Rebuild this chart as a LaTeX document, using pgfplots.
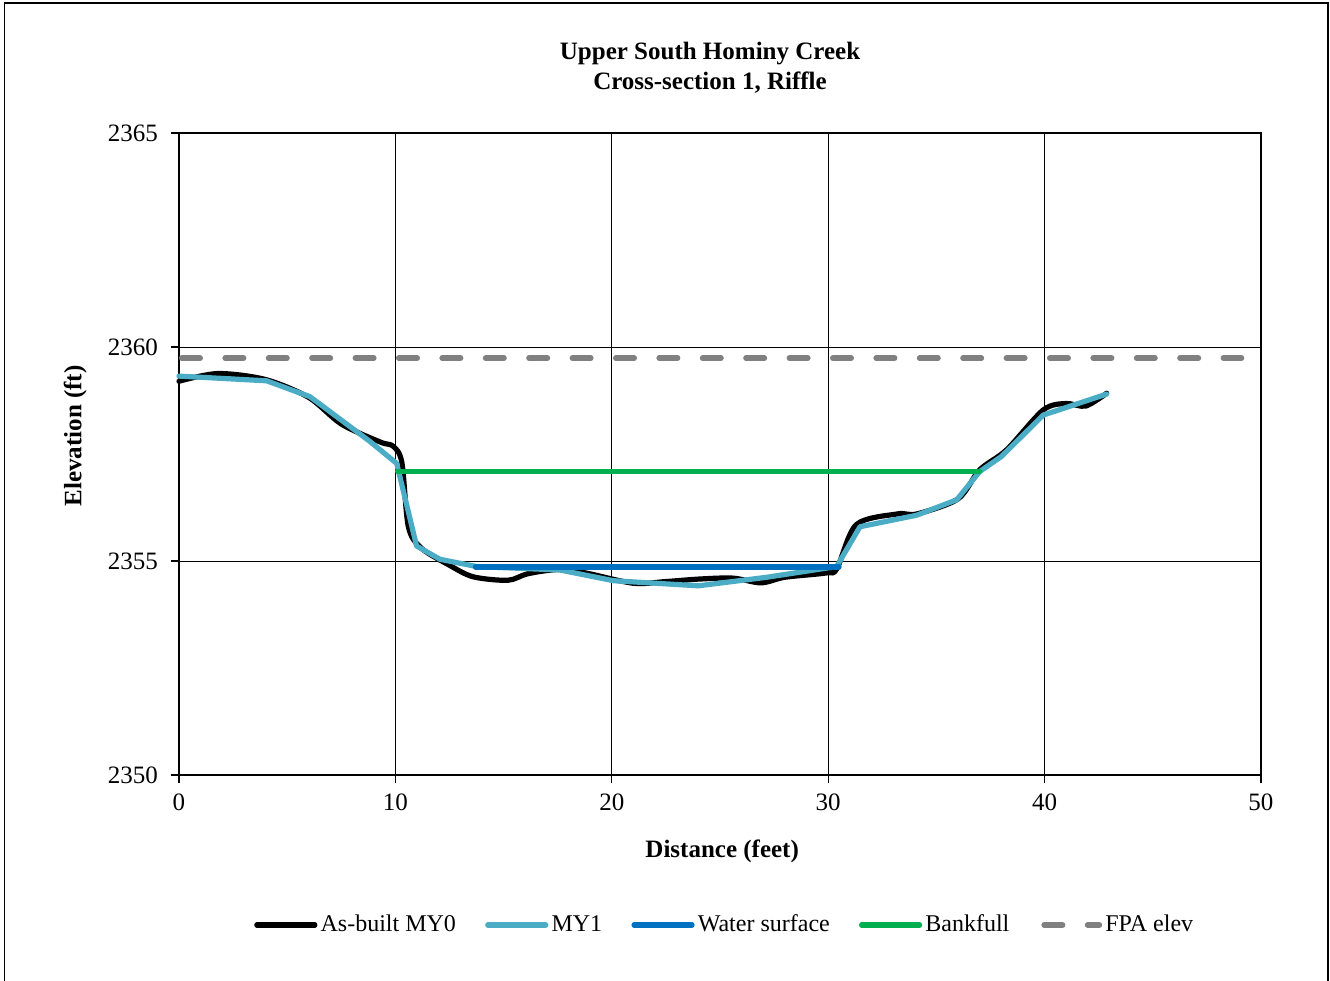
\documentclass[border=0pt]{standalone}
\usepackage{pgfplots}
\pgfplotsset{compat=1.18}
\usepackage{fontspec}
\setmainfont{Liberation Serif}
\definecolor{myone}{HTML}{4BACC6}
\definecolor{wsurf}{HTML}{0070C0}
\definecolor{bkf}{HTML}{00B050}
\definecolor{fpa}{HTML}{808080}
\begin{document}
\begin{tikzpicture}
\useasboundingbox (-89.5pt,-103pt) rectangle (575.5pt,387.5pt);
\draw[black, line width=0.8pt] (-87.25pt,-104pt) -- (-87.25pt,386pt) -- (574.5pt,386pt) -- (574.5pt,-104pt);
\begin{axis}[
  at={(0pt,0pt)}, anchor=south west,
  scale only axis, width=541pt, height=321pt,
  xmin=0, xmax=50, ymin=2350, ymax=2365,
  xtick={0,10,20,30,40,50}, ytick={2350,2355,2360,2365},
  grid=major, major grid style={black, line width=0.5pt},
  axis line style={black, line width=0.8pt},
  tick style={black, line width=0.6pt},
  tick align=outside, major tick length=4pt,
  xtick pos=bottom, ytick pos=left,
  /pgf/number format/assume math mode=true,
  /pgf/number format/set thousands separator={},
  ticklabel style={font=\fontsize{12.5}{15}\selectfont},
  xticklabel style={yshift=-2pt},
  yticklabel style={xshift=-3pt},
  xlabel={Distance (feet)},
  ylabel={Elevation (ft)},
  xlabel style={font=\fontsize{12.5}{15}\selectfont\bfseries, at={(axis description cs:0.502,-0.1184)}, anchor=center},
  ylabel style={font=\fontsize{12.5}{15}\selectfont\bfseries, at={(axis description cs:-0.096,0.528)}, anchor=center},
  legend columns=5,
  legend style={draw=none, fill=none, font=\fontsize{12}{14}\selectfont, at={(axis description cs:0.504,-0.2336)}, anchor=center,
    nodes={inner sep=0.6pt},
    /tikz/every odd column/.append style={column sep=1pt},
    /tikz/every even column/.append style={column sep=14pt}},
  legend cell align=left,
  legend image code/.code={\draw[#1] (0pt,0pt) -- (29pt,0pt);},
  clip=false,
]
\addplot[black, line width=2.6pt, smooth, tension=0.5, line cap=round, line join=round] coordinates {
(0,2359.2) (1.8,2359.38) (4,2359.24) (6,2358.82) (7.5,2358.2) (9.3,2357.78) (9.9,2357.68)
(10.3,2357.3) (10.6,2355.8) (11.2,2355.3) (12.5,2354.9) (13.6,2354.63) (15.2,2354.55)
(16.1,2354.7) (17.5,2354.8) (18.8,2354.72) (21.0,2354.48) (22.5,2354.52) (24.1,2354.58)
(25.6,2354.6) (26.9,2354.49) (28.0,2354.62) (29.9,2354.72) (30.4,2354.82) (31.3,2355.85)
(33.2,2356.1) (34.1,2356.1) (36,2356.45) (37.0,2357.13) (38.25,2357.6) (39.94,2358.53)
(41.0,2358.68) (41.9,2358.62) (42.87,2358.92)};
\addlegendentry{As-built MY0}
\addplot[myone, line width=2.6pt, line cap=round, line join=round] coordinates {
(0,2359.32) (4.05,2359.21) (6.05,2358.84) (8.83,2357.79) (10.06,2357.28) (10.98,2355.35)
(12.06,2355.04) (13.76,2354.87) (17.6,2354.79) (20.07,2354.54) (24.0,2354.42) (27.16,2354.62)
(30.39,2354.87) (31.47,2355.80) (34.09,2356.07) (35.94,2356.43) (37.0,2357.09) (38.0,2357.44)
(39.94,2358.41) (42.87,2358.90)};
\addlegendentry{MY1}
\addplot[wsurf, line width=2.6pt, line cap=round] coordinates {(13.7,2354.86) (30.5,2354.86)};
\addlegendentry{Water surface}
\addplot[bkf, line width=2.6pt, line cap=round] coordinates {(10.1,2357.1) (37.0,2357.1)};
\addlegendentry{Bankfull}
\addplot[fpa, line width=2.8pt, line cap=round, dash pattern=on 9.2pt off 12.5pt, dash phase=-1.4pt] coordinates {(0,2359.74) (49.1,2359.74)};
\addlegendentry{FPA elev}
\node[font=\fontsize{12.5}{15}\selectfont\bfseries, align=center, anchor=center] at (axis description cs:0.4908,1.101) {Upper South Hominy Creek\\Cross-section 1, Riffle};
\end{axis}
\end{tikzpicture}
\end{document}
